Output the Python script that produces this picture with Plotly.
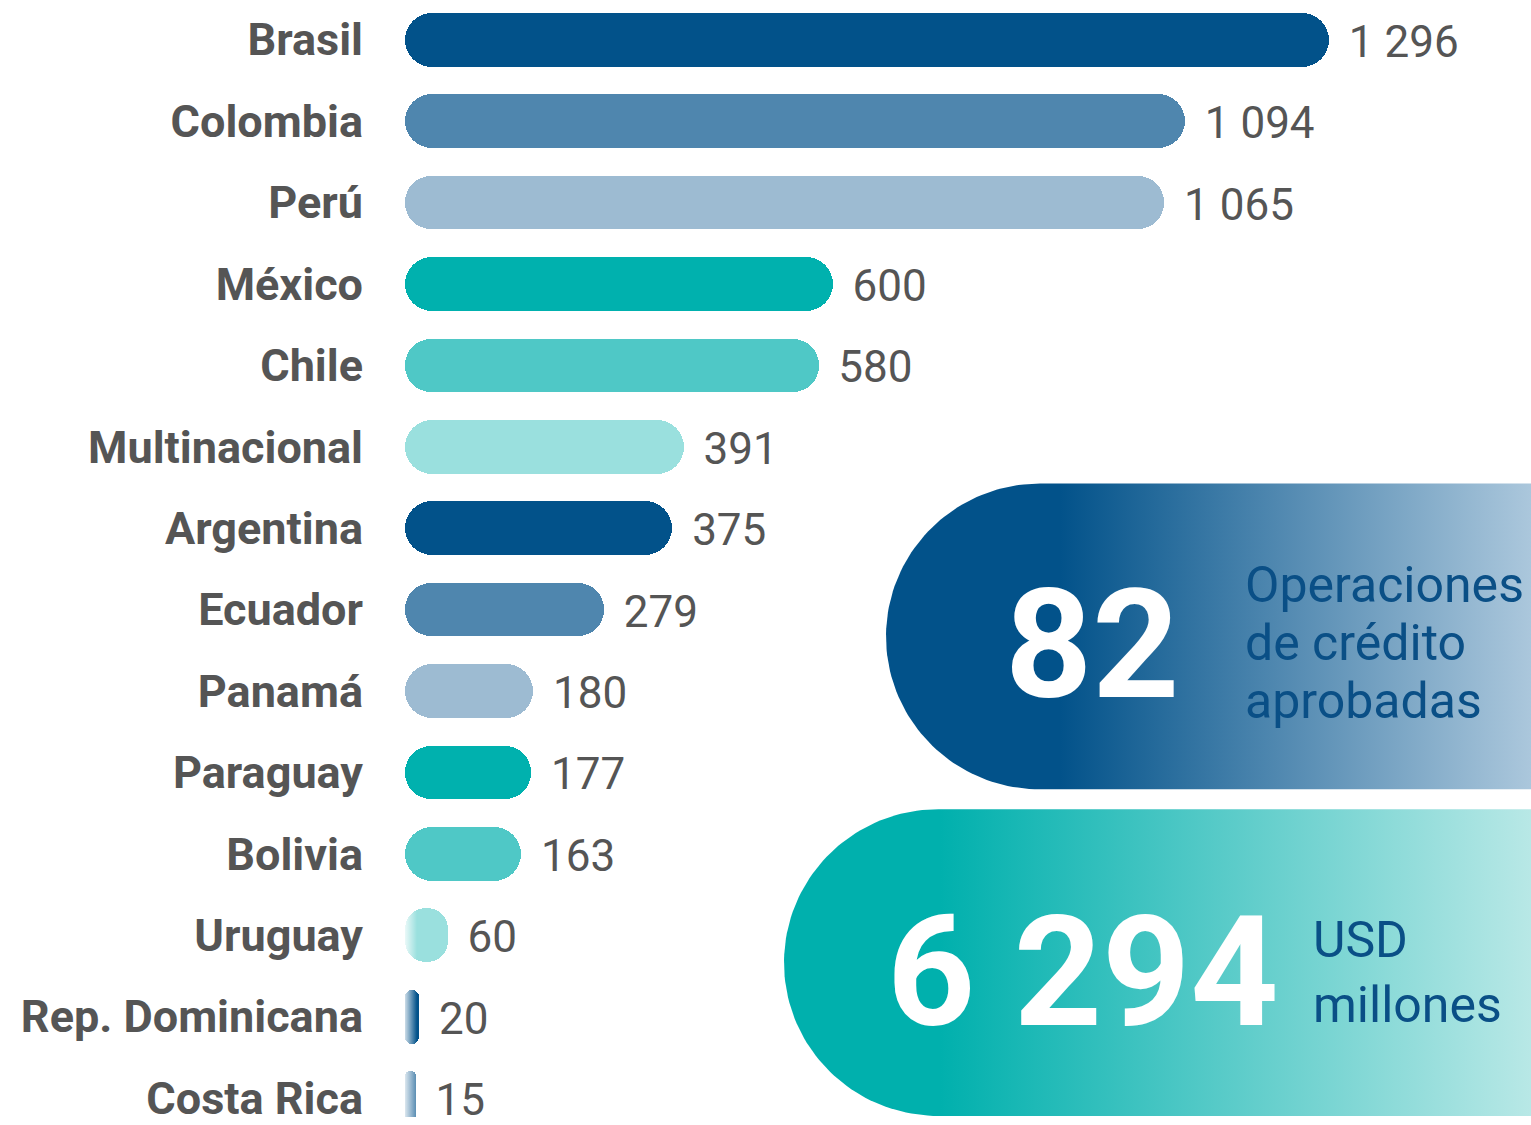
import numpy as np
import plotly.graph_objects as go

# ---------------- data ----------------
countries = ["Brasil", "Colombia", "Perú", "México", "Chile", "Multinacional",
             "Argentina", "Ecuador", "Panamá", "Paraguay", "Bolivia", "Uruguay",
             "Rep. Dominicana", "Costa Rica"]
values = [1296, 1094, 1065, 600, 580, 391, 375, 279, 180, 177, 163, 60, 20, 15]
palette = ["#02528a", "#4f86ae", "#9dbbd2", "#00b1ae", "#4fc8c6", "#9ae0de"]
bar_colors = [palette[i % len(palette)] for i in range(len(countries))]
value_labels = [f"{v:,}".replace(",", " ") for v in values]

total_operations = "82"
operations_lines = ["Operaciones", "de crédito", "aprobadas"]
total_amount = "6 294"
amount_text = "USD<br>millones"

# ---------------- styling / layout constants ----------------
W, H = 1531, 1125
ML = 380                      # left margin (room for country labels)
PX_PER_UNIT = 0.713           # bar scale
ZERO_PX = 405                 # pixel position of value 0
XMIN = -(ZERO_PX - ML) / PX_PER_UNIT
XMAX = XMIN + (W - ML) / PX_PER_UNIT
ROW0, ROWSTEP = 40, 82
Y_RANGE = [(H - ROW0) / ROWSTEP, -ROW0 / ROWSTEP]
LABEL_SHIFT = 6 / ROWSTEP     # value labels sit slightly low
Y3_RANGE = [Y_RANGE[0] - LABEL_SHIFT, Y_RANGE[1] - LABEL_SHIFT]
BAR_PX = 54
BAR_W = BAR_PX / ROWSTEP
CAPSULE_MIN = BAR_PX / PX_PER_UNIT   # smallest value that fits a full capsule

LABEL_FONT = "Roboto"
GRAY = "#555555"
DARK_BLUE = "#0a4f86"

fig = go.Figure()

vals = np.array(values, dtype=float)
big = vals >= CAPSULE_MIN
# right piece (rounded at the right end)
right_base = np.where(big, vals * 0.3, 0.0)
fig.add_trace(go.Bar(
    y=countries, x=vals - right_base, base=right_base, orientation="h",
    marker=dict(color=bar_colors, cornerradius="50%", line=dict(width=0)),
    width=BAR_W, hoverinfo="skip", showlegend=False))
# left piece (rounded at the left end) for bars long enough to be capsules
left_len = np.where(big, vals * 0.7, 0.0)
fig.add_trace(go.Bar(
    y=countries, x=-left_len, base=left_len, orientation="h",
    marker=dict(color=bar_colors, cornerradius="50%", line=dict(width=0)),
    width=BAR_W, hoverinfo="skip", showlegend=False))
# value labels
fig.add_trace(go.Scatter(
    y=countries, x=vals, yaxis="y3", mode="markers+text", text=value_labels,
    textposition="middle right",
    marker=dict(size=30, opacity=0),
    textfont=dict(family=LABEL_FONT, size=44, color=GRAY),
    hoverinfo="skip", showlegend=False, cliponaxis=False))

# ---------------- decorations (pixel coordinate overlay axes) ----------------
def capsule_left(x_left, y_top, y_bot, x_right):
    r = (y_bot - y_top) / 2
    cy = (y_top + y_bot) / 2
    cx = x_left + r
    t = np.linspace(np.pi / 2, 3 * np.pi / 2, 90)
    xs = list(cx + r * np.cos(t)) + [x_right, x_right, cx]
    ys = list(cy - r * np.sin(t)) + [y_bot, y_top, y_top]
    return xs, ys

# soft white fade over the left end of the shortest bars
fig.add_trace(go.Scatter(
    x=[398, 417, 417, 398, 398], y=[912, 912, 1125, 1125, 912],
    xaxis="x2", yaxis="y2", mode="lines", fill="toself", line=dict(width=0),
    fillgradient=dict(type="horizontal",
                      colorscale=[[0, "rgba(255,255,255,1)"],
                                  [1, "rgba(255,255,255,0)"]],
                      start=402, stop=417),
    hoverinfo="skip", showlegend=False))

px1, py1 = capsule_left(886, 487, 795, 1545)
fig.add_trace(go.Scatter(
    x=px1, y=py1, xaxis="x2", yaxis="y2", mode="lines", fill="toself",
    line=dict(width=0),
    fillgradient=dict(type="horizontal",
                      colorscale=[[0, "#02528a"], [1, "#abc7dc"]],
                      start=1060, stop=1531),
    hoverinfo="skip", showlegend=False))

px2, py2 = capsule_left(784, 815, 1124, 1545)
fig.add_trace(go.Scatter(
    x=px2, y=py2, xaxis="x2", yaxis="y2", mode="lines", fill="toself",
    line=dict(width=0),
    fillgradient=dict(type="horizontal",
                      colorscale=[[0, "#00b0ad"], [1, "#b8e8e6"]],
                      start=940, stop=1531),
    hoverinfo="skip", showlegend=False))

annotations = [
    dict(x=1092, y=650, xref="x2", yref="y2", text=f"<b>{total_operations}</b>",
         showarrow=False, xanchor="center", yanchor="middle",
         font=dict(family=LABEL_FONT, size=152, color="white")),
    dict(x=1083, y=979, xref="x2", yref="y2", text=f"<b>{total_amount}</b>",
         showarrow=False, xanchor="center", yanchor="middle",
         font=dict(family=LABEL_FONT, size=154, color="white")),
    dict(x=1311, y=979, xref="x2", yref="y2", text=amount_text,
         showarrow=False, xanchor="left", yanchor="middle", align="left",
         font=dict(family=LABEL_FONT, size=50, color=DARK_BLUE)),
]
for k, line in enumerate(operations_lines):
    annotations.append(dict(
        x=1243, y=589 + 58.5 * k, xref="x2", yref="y2", text=line,
        showarrow=False, xanchor="left", yanchor="middle", align="left",
        font=dict(family=LABEL_FONT, size=50, color=DARK_BLUE)))

fig.update_layout(
    width=W, height=H,
    margin=dict(l=ML, r=0, t=0, b=0, pad=0),
    paper_bgcolor="white", plot_bgcolor="white",
    barmode="overlay", bargap=0,
    showlegend=False,
    xaxis=dict(range=[XMIN, XMAX], visible=False, fixedrange=True),
    yaxis=dict(type="category", categoryorder="array", categoryarray=countries,
               range=Y_RANGE, showgrid=False, zeroline=False, showline=False,
               ticks="", ticklabelstandoff=16,
               tickfont=dict(family=LABEL_FONT, size=45, color=GRAY, weight="bold"),
               fixedrange=True),
    yaxis3=dict(type="category", categoryorder="array", categoryarray=countries,
                range=Y3_RANGE, overlaying="y", anchor="x", visible=False,
                fixedrange=True),
    xaxis2=dict(range=[ML, W], domain=[0, 1], visible=False, overlaying="x",
                anchor="y2", fixedrange=True),
    yaxis2=dict(range=[H, 0], domain=[0, 1], visible=False, overlaying="y",
                anchor="x2", fixedrange=True),
    annotations=annotations,
)

fig.write_html("out.html", post_script="document.body.style.margin='0';",
               config={"displayModeBar": False})
